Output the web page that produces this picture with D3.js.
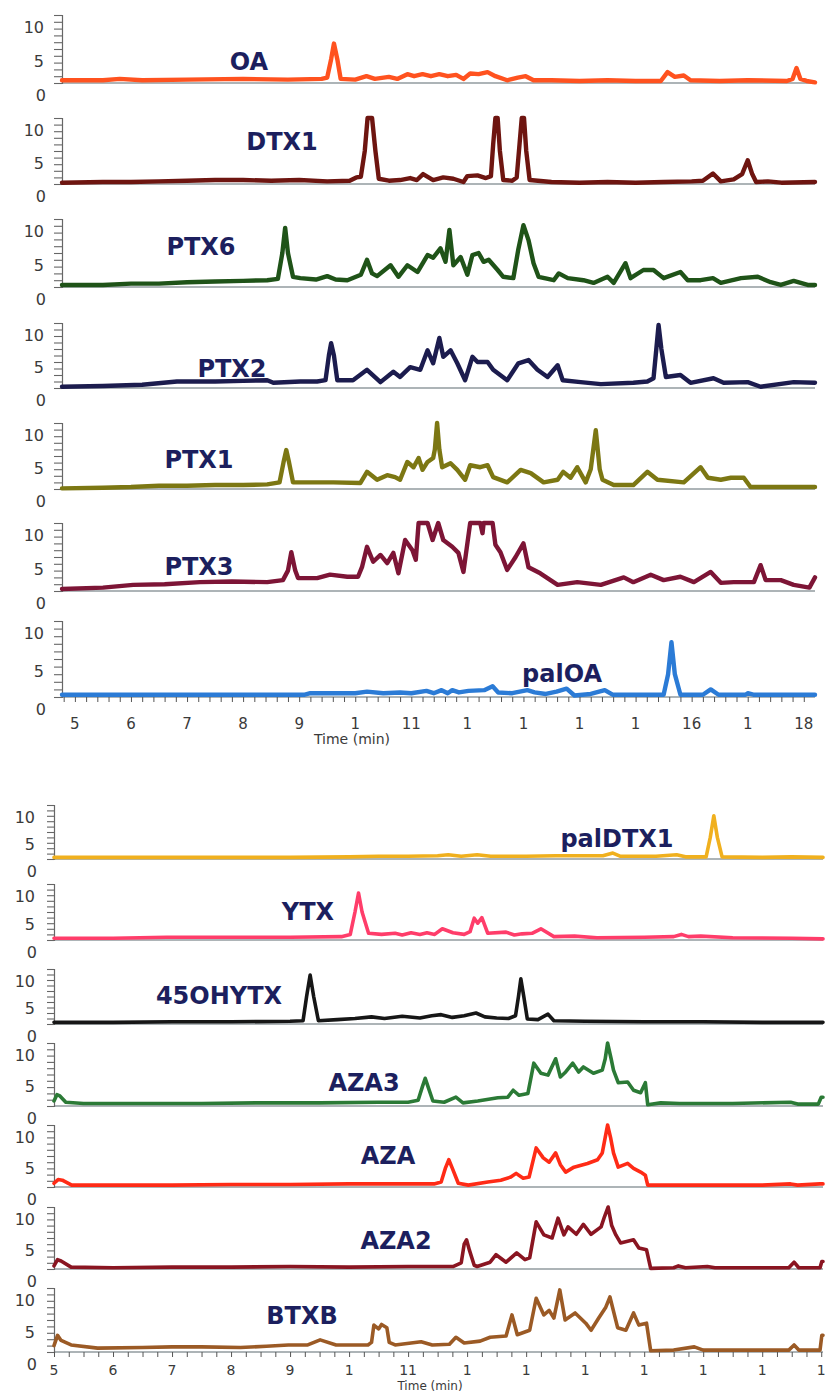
<!DOCTYPE html>
<html><head><meta charset="utf-8">
<script src="https://cdn.jsdelivr.net/npm/d3@7"></script>
<style>html,body{margin:0;padding:0;background:#fff}svg{display:block}</style>
</head><body><div id="chart"></div>
<script>
// ---------- DATA ----------
const tickTimes = [5,6,7,8,9,10,11,12,13,14,15,16,17,18];
const topTickLabels = ["5","6","7","8","9","1","11","1","1","1","1","16","1","18"];
const bottomTickLabels = ["5","6","7","8","9","1","11","1","1","1","1","1","1","1"];
const yTickLabels = ["10","5","0"];
const yTickValues = [10,5,0];
const xTitle = "Time (min)";

const topNames = ["OA","DTX1","PTX6","PTX2","PTX1","PTX3","palOA"];
const bottomNames = ["palDTX1","YTX","45OHYTX","AZA3","AZA","AZA2","BTXB"];

// each series: [time (min), intensity]
const OA = [[4.77,0.4],[5.5,0.4],[5.8,0.6],[6.2,0.4],[7.0,0.5],[8.0,0.6],[8.8,0.5],[9.4,0.6],[9.5,0.8],[9.57,3.5],[9.62,5.8],[9.68,3.5],[9.74,0.6],[10.0,0.5],[10.2,1.0],[10.35,0.6],[10.6,0.9],[10.75,0.6],[10.93,1.3],[11.05,1.0],[11.2,1.3],[11.35,1.0],[11.5,1.3],[11.65,1.0],[11.8,1.2],[11.93,0.6],[12.05,1.4],[12.2,1.3],[12.36,1.6],[12.5,1.0],[12.71,0.4],[12.9,0.8],[13.04,1.0],[13.18,0.4],[13.5,0.4],[14.0,0.3],[14.5,0.4],[15.0,0.3],[15.45,0.3],[15.57,1.6],[15.7,0.9],[15.86,1.1],[15.98,0.4],[16.5,0.3],[17.0,0.4],[17.7,0.3],[17.8,0.6],[17.87,2.2],[17.94,0.6],[18.05,0.3],[18.2,0.1]];
const DTX1 = [[4.77,0.2],[5.5,0.3],[6.0,0.3],[6.5,0.4],[7.0,0.5],[7.5,0.6],[8.0,0.6],[8.5,0.5],[9.0,0.6],[9.5,0.4],[9.9,0.5],[10.02,1.0],[10.1,1.1],[10.17,5],[10.22,10],[10.3,10],[10.36,5],[10.42,0.8],[10.6,0.5],[10.8,0.6],[10.98,0.9],[11.1,0.6],[11.21,1.5],[11.39,0.6],[11.57,1.0],[11.75,0.8],[11.93,0.3],[12.0,1.2],[12.18,1.3],[12.33,0.9],[12.42,1.2],[12.46,6],[12.5,10],[12.54,10],[12.58,5],[12.64,0.6],[12.8,0.5],[12.88,1.0],[12.93,6],[12.97,10],[13.01,10],[13.05,5],[13.11,0.6],[13.5,0.3],[14.0,0.2],[14.5,0.3],[15.0,0.2],[15.5,0.3],[16.0,0.4],[16.2,0.5],[16.38,1.6],[16.52,0.4],[16.75,0.7],[16.9,1.5],[17.0,3.6],[17.08,1.5],[17.15,0.3],[17.36,0.4],[17.6,0.2],[18.2,0.3]];
const PTX6 = [[4.77,0.3],[5.5,0.3],[6.0,0.5],[6.5,0.5],[7.0,0.7],[7.5,0.8],[8.0,0.9],[8.43,1.0],[8.62,1.2],[8.7,5],[8.75,8.7],[8.8,5],[8.89,1.5],[9.02,1.3],[9.3,1.1],[9.5,1.6],[9.65,1.1],[9.86,1.0],[10.1,1.8],[10.21,4.0],[10.3,2.0],[10.39,1.6],[10.63,3.2],[10.77,1.5],[10.93,3.2],[11.11,2.2],[11.29,4.7],[11.39,4.3],[11.52,5.7],[11.61,3.7],[11.68,8.4],[11.75,3.2],[11.88,4.4],[12.0,1.8],[12.09,4.7],[12.2,5.0],[12.29,3.7],[12.38,4.0],[12.54,2.5],[12.64,1.5],[12.82,1.3],[12.91,5.6],[13.0,9.1],[13.09,6.9],[13.18,3.5],[13.27,1.5],[13.54,1.0],[13.63,2.0],[13.79,1.3],[14.07,1.0],[14.25,0.6],[14.5,1.5],[14.61,0.6],[14.82,3.5],[14.91,1.3],[15.14,2.5],[15.32,2.5],[15.5,1.3],[15.8,2.2],[15.93,1.0],[16.16,1.0],[16.38,1.3],[16.52,0.6],[16.88,1.3],[17.18,1.5],[17.41,0.7],[17.59,0.3],[17.82,0.9],[18.07,0.3],[18.2,0.3]];
const PTX2 = [[4.77,0.2],[5.5,0.3],[6.2,0.5],[6.82,1.0],[7.5,1.0],[8.0,1.1],[8.43,1.2],[8.54,0.8],[9.02,1.0],[9.32,1.0],[9.47,1.2],[9.53,5],[9.57,6.9],[9.62,5],[9.68,1.2],[9.96,1.2],[10.21,2.8],[10.45,0.9],[10.68,2.5],[10.8,1.7],[10.98,3.2],[11.16,2.8],[11.29,5.8],[11.39,3.8],[11.5,7.7],[11.57,4.8],[11.7,5.8],[11.82,3.8],[11.96,1.2],[12.09,4.8],[12.18,4.0],[12.36,4.0],[12.46,2.8],[12.71,1.2],[12.91,3.8],[13.09,4.3],[13.25,2.8],[13.43,1.7],[13.61,3.5],[13.7,1.2],[14.02,0.9],[14.38,0.6],[14.96,0.8],[15.21,1.0],[15.32,1.5],[15.37,6],[15.41,9.7],[15.46,6],[15.54,1.7],[15.8,2.0],[15.98,0.8],[16.39,1.5],[16.57,0.8],[17.0,0.9],[17.23,0.2],[17.82,0.9],[18.2,0.8]];
const PTX1 = [[4.77,0.1],[5.5,0.2],[6.0,0.3],[6.5,0.5],[7.0,0.5],[7.5,0.6],[8.0,0.6],[8.43,0.7],[8.65,1.0],[8.72,4],[8.77,5.9],[8.82,4],[8.89,1.0],[9.2,1.0],[9.61,1.0],[10.09,0.9],[10.21,2.6],[10.39,1.4],[10.57,2.1],[10.71,1.8],[10.8,1.4],[10.93,4.1],[11.04,3.3],[11.13,4.7],[11.2,2.9],[11.29,4.1],[11.39,4.7],[11.42,6],[11.46,10],[11.5,6],[11.55,3.3],[11.7,3.9],[11.82,2.9],[11.96,1.4],[12.05,3.6],[12.23,3.3],[12.36,3.6],[12.46,1.8],[12.71,1.0],[12.95,2.9],[13.13,2.4],[13.36,1.0],[13.61,1.4],[13.71,2.6],[13.84,1.7],[13.96,3.3],[14.11,1.0],[14.2,3],[14.29,8.9],[14.36,3],[14.41,1.4],[14.61,0.6],[14.96,0.6],[15.21,2.6],[15.39,1.4],[15.86,1.0],[16.16,3.3],[16.29,1.7],[16.52,1.4],[16.7,1.7],[16.93,1.7],[17.05,0.3],[17.5,0.3],[18.2,0.3]];
const PTX3 = [[4.77,0.3],[5.5,0.5],[6.04,0.9],[6.6,1.0],[7.23,1.3],[7.8,1.4],[8.43,1.3],[8.71,1.6],[8.8,3],[8.86,5.7],[8.93,3],[8.98,1.9],[9.32,1.9],[9.55,2.4],[9.86,2.1],[10.05,2.1],[10.12,3.5],[10.21,6.5],[10.32,4.3],[10.45,5.3],[10.57,4.1],[10.68,5.6],[10.77,2.6],[10.89,7.5],[11.02,6.0],[11.08,4.6],[11.13,10],[11.29,10],[11.38,7.5],[11.48,10],[11.57,7.5],[11.73,6.5],[11.84,5.6],[11.93,2.8],[12.05,10],[12.23,10],[12.27,8.5],[12.29,10],[12.45,10],[12.5,6.8],[12.59,5.7],[12.71,3.1],[12.86,5.0],[13.0,7.0],[13.09,3.5],[13.3,2.6],[13.61,0.9],[13.96,1.3],[14.38,0.9],[14.79,2.0],[14.96,1.3],[15.27,2.4],[15.5,1.6],[15.8,2.1],[16.04,1.3],[16.34,2.8],[16.52,1.2],[16.75,1.3],[17.11,1.3],[17.23,3.8],[17.32,1.6],[17.59,1.6],[17.82,0.9],[18.1,0.5],[18.2,2.0]];
const palOA = [[4.77,0.3],[6,0.3],[7,0.3],[8,0.3],[9.1,0.3],[9.2,0.5],[10.0,0.5],[10.21,0.7],[10.5,0.5],[10.8,0.6],[11.0,0.5],[11.27,0.8],[11.4,0.5],[11.54,0.9],[11.65,0.5],[11.73,0.9],[11.85,0.6],[12.02,0.8],[12.3,0.9],[12.45,1.4],[12.55,0.6],[12.8,0.5],[13.07,0.9],[13.2,0.6],[13.4,0.4],[13.59,0.7],[13.77,1.1],[13.91,0.2],[14.2,0.4],[14.45,0.9],[14.59,0.3],[15.0,0.3],[15.5,0.3],[15.58,3],[15.64,7.2],[15.7,3],[15.8,0.3],[16.2,0.3],[16.34,1.0],[16.48,0.3],[16.96,0.3],[17.0,0.5],[17.1,0.3],[18.2,0.3]];

const palDTX1 = [[5.0,0.3],[6,0.3],[7,0.3],[8,0.3],[9,0.3],[10,0.4],[10.5,0.5],[11,0.5],[11.5,0.6],[11.68,0.8],[11.9,0.5],[12.17,0.8],[12.4,0.5],[13,0.5],[13.5,0.6],[14.0,0.6],[14.3,0.6],[14.47,1.1],[14.6,0.5],[15.2,0.5],[15.55,0.8],[15.7,0.4],[16.05,0.4],[16.12,4],[16.18,8],[16.24,4],[16.32,0.4],[17,0.3],[17.5,0.4],[18.03,0.3]];
const YTX = [[5.0,0.3],[6.0,0.3],[6.91,0.5],[8.0,0.5],[9.0,0.5],[9.87,0.6],[10.02,1.0],[10.1,5],[10.16,8.4],[10.22,5],[10.33,1.2],[10.55,1.0],[10.78,1.2],[10.9,0.9],[11.05,1.3],[11.2,1.0],[11.32,1.3],[11.45,1.0],[11.58,2.0],[11.76,1.3],[11.95,1.0],[12.05,1.5],[12.12,3.9],[12.18,3.0],[12.25,4.0],[12.35,1.2],[12.66,1.4],[12.8,0.9],[12.93,1.1],[13.1,1.2],[13.25,2.0],[13.47,0.6],[13.82,0.7],[14.2,0.4],[15.0,0.5],[15.5,0.6],[15.63,1.0],[15.75,0.6],[15.96,0.7],[16.5,0.4],[17.5,0.3],[18.03,0.2]];
const OHYTX45 = [[5,0.3],[6,0.3],[7,0.4],[8,0.4],[9,0.5],[9.22,0.6],[9.28,5],[9.34,8.9],[9.4,5],[9.48,0.6],[9.8,0.8],[10.1,1.0],[10.38,1.3],[10.6,1.0],[10.9,1.4],[11.2,1.1],[11.4,1.5],[11.56,1.7],[11.75,1.2],[11.95,1.5],[12.15,2.0],[12.3,1.3],[12.5,1.1],[12.7,1.0],[12.82,1.5],[12.87,5],[12.91,8.2],[12.96,5],[13.02,0.9],[13.2,0.8],[13.37,1.8],[13.47,0.6],[14,0.5],[15,0.4],[16,0.4],[17,0.3],[18.03,0.3]];
const AZA3 = [[5.0,0.8],[5.05,1.8],[5.1,1.6],[5.2,0.6],[5.5,0.4],[6.5,0.4],[7.5,0.4],[8.5,0.5],[9.5,0.5],[10.5,0.6],[11.0,0.6],[11.17,0.9],[11.24,3],[11.29,4.4],[11.34,3],[11.42,0.8],[11.61,0.6],[11.81,1.4],[11.93,0.5],[12.18,0.8],[12.52,1.3],[12.69,1.4],[12.78,2.5],[12.88,1.7],[13.03,2.0],[13.13,6.8],[13.25,5.2],[13.37,4.9],[13.5,7.5],[13.58,4.6],[13.67,5.4],[13.79,6.8],[13.89,5.4],[13.97,6.2],[14.14,5.2],[14.29,5.7],[14.34,7.5],[14.38,10],[14.44,7.5],[14.48,5.7],[14.56,3.7],[14.72,3.8],[14.82,2.5],[14.94,2.1],[15.02,3.7],[15.06,0.2],[15.28,0.5],[15.6,0.4],[16.5,0.4],[17.48,0.6],[17.6,0.3],[17.95,0.3],[18.0,1.4],[18.03,1.4]];
const AZA = [[5.0,0.6],[5.07,1.2],[5.14,1.1],[5.3,0.3],[6.0,0.3],[7.0,0.3],[8.0,0.4],[9.0,0.4],[10.0,0.5],[11.0,0.5],[11.44,0.5],[11.56,0.8],[11.63,3],[11.69,4.4],[11.75,3],[11.85,0.6],[12.02,0.3],[12.35,0.8],[12.57,1.1],[12.74,1.6],[12.83,2.2],[12.95,1.4],[13.05,1.6],[13.17,6.3],[13.29,4.7],[13.39,4.0],[13.5,5.5],[13.58,3.6],[13.67,2.4],[13.81,3.2],[14.04,3.8],[14.21,4.4],[14.29,5.5],[14.34,8],[14.38,10],[14.43,8],[14.48,5.5],[14.56,3.2],[14.72,3.8],[14.82,3.0],[14.94,2.4],[15.02,1.9],[15.06,0.3],[16.0,0.3],[17.0,0.3],[17.48,0.5],[17.6,0.3],[17.98,0.5],[18.03,0.5]];
const AZA2 = [[5.0,0.5],[5.06,1.5],[5.12,1.3],[5.29,0.3],[6,0.2],[7,0.3],[8,0.3],[9,0.4],[10,0.3],[11,0.4],[11.76,0.4],[11.9,1.0],[11.95,4],[11.99,4.7],[12.04,3],[12.12,0.6],[12.17,0.4],[12.39,1.1],[12.49,2.3],[12.66,1.1],[12.84,2.6],[12.98,1.5],[13.06,1.8],[13.17,7.6],[13.3,5.5],[13.44,5.0],[13.54,8.2],[13.64,5.5],[13.71,6.8],[13.85,5.6],[13.97,7.2],[14.1,5.6],[14.27,6.8],[14.33,8.5],[14.39,10],[14.45,7],[14.52,5.5],[14.6,4.2],[14.82,4.7],[14.91,3.4],[15.04,3.1],[15.11,0.1],[15.5,0.2],[15.58,0.5],[15.7,0.2],[16.07,0.4],[16.2,0.2],[17.45,0.2],[17.54,1.1],[17.62,0.2],[17.98,0.2],[18.01,1.2],[18.03,1.2]];
const BTXB = [[5.0,1.0],[5.06,2.6],[5.12,1.8],[5.29,1.1],[5.74,0.6],[6.5,0.7],[7.0,0.8],[7.5,0.8],[8.16,0.7],[8.6,0.9],[8.97,1.1],[9.3,1.1],[9.51,1.9],[9.78,1.1],[10.32,1.1],[10.38,1.5],[10.42,4.2],[10.5,3.6],[10.55,4.3],[10.64,3.8],[10.68,1.5],[10.78,1.1],[11.22,1.6],[11.41,1.1],[11.7,1.2],[11.81,2.3],[11.95,1.4],[12.22,1.7],[12.39,2.3],[12.66,2.5],[12.76,5.8],[12.85,2.7],[13.06,3.4],[13.17,8.4],[13.3,5.8],[13.39,6.5],[13.47,5.3],[13.57,9.7],[13.66,5.0],[13.83,6.1],[14.01,4.5],[14.1,3.4],[14.23,5.3],[14.35,7],[14.42,8.6],[14.55,3.8],[14.69,3.4],[14.82,6.1],[14.91,4.2],[15.04,4.5],[15.11,0.2],[15.5,0.3],[15.85,0.8],[16.0,0.3],[17.45,0.3],[17.54,1.1],[17.62,0.3],[17.98,0.3],[18.01,2.6],[18.03,2.6]];

const topSeries = [OA, DTX1, PTX6, PTX2, PTX1, PTX3, palOA];
const bottomSeries = [palDTX1, YTX, OHYTX45, AZA3, AZA, AZA2, BTXB];

// ---------- LAYOUT / STYLE ----------
const topColors = ["#ff521f","#6e1510","#1f5318","#1c1c4e","#7c7713","#7d1536","#2b7bd6"];
const bottomColors = ["#f0b01e","#ff3d6a","#161616","#2b7a36","#ff2b16","#8a1521","#9b5a25"];
const topLayout = {
  x0: 62, x1: 815, domain: [4.77, 18.2],
  tops: [15,118,219,323,423,523,621], bases: [83,184,287,388,489,591,697],
  labelPos: [[249,62],[282,142],[201,247],[232,369],[199,460],[199,567],[562,674]],
  tickLabelY: 724, titleX: 352, titleY: 740, titleSize: 14, tickSize: 15, minorStep: 0.2, stroke: 4.4,
  yLabelX: 44, tickLen: 8
};
const bottomLayout = {
  x0: 54, x1: 823, domain: [5, 18.03],
  tops: [805,884,969,1043,1125,1207,1288], bases: [859,940,1024,1106,1187,1269,1352],
  labelPos: [[617,839],[308,912],[219,996],[364,1083],[388,1156],[396,1241],[302,1316]],
  tickLabelY: 1371, titleX: 430, titleY: 1386, titleSize: 12, tickSize: 14, minorStep: 0.25, stroke: 3.6,
  yLabelX: 35, tickLen: 7
};

const svg = d3.select("#chart").append("svg").attr("width",829).attr("height",1393)
  .style("font-family","'DejaVu Sans', Verdana, sans-serif");

function drawGroup(L, names, series, colors, tickLabels) {
  const x = d3.scaleLinear().domain(L.domain).range([L.x0, L.x1]);
  const g = svg.append("g");
  names.forEach((name, i) => {
    const y = d3.scaleLinear().domain([0,10]).range([L.bases[i], L.tops[i]]);
    const p = g.append("g");
    // baseline
    p.append("line").attr("x1", L.x0).attr("x2", L.x1).attr("y1", y(0)).attr("y2", y(0))
      .attr("stroke", "#5d6a70").attr("stroke-width", 1.2);
    // y axis
    const ax = p.append("g").attr("transform", `translate(${L.x0},0)`)
      .call(d3.axisLeft(y).tickValues(d3.range(0, 11, 1)).tickSize(L.tickLen).tickFormat(""));
    ax.select(".domain").attr("stroke", "#666").attr("stroke-width", 1.2);
    ax.selectAll(".tick line").attr("stroke", "#666").attr("stroke-width", 1.1);
    // y tick labels (offset below tick as in original)
    p.selectAll("text.yl").data(yTickValues).join("text").attr("class","yl")
      .attr("x", (d) => d === 0 ? L.yLabelX + 2 : L.yLabelX)
      .attr("y", (d) => y(d) + 13)
      .attr("text-anchor","end").attr("dominant-baseline","middle")
      .attr("font-size", 16).attr("fill", "#3a3a3a")
      .text((d, k) => yTickLabels[k]);
    // compound name
    p.append("text").attr("x", L.labelPos[i][0]).attr("y", L.labelPos[i][1])
      .attr("text-anchor","middle").attr("dominant-baseline","central")
      .attr("font-size", 24).attr("font-weight","bold").attr("fill","#1c1f5e")
      .text(name);
    // trace
    const line = d3.line().x(d => x(d[0])).y(d => y(d[1]));
    p.append("path").datum(series[i]).attr("d", line)
      .attr("fill","none").attr("stroke", colors[i]).attr("stroke-width", L.stroke)
      .attr("stroke-linejoin","round").attr("stroke-linecap","round");
    // x axis on last panel
    if (i === names.length - 1) {
      const xa = p.append("g").attr("transform", `translate(0,${y(0)})`)
        .call(d3.axisBottom(x).tickValues(d3.range(Math.ceil(L.domain[0]/L.minorStep)*L.minorStep, L.domain[1], L.minorStep)).tickSize(5).tickFormat(""));
      xa.select(".domain").remove();
      xa.selectAll(".tick line").attr("stroke","#555");
      p.selectAll("text.xl").data(tickTimes).join("text").attr("class","xl")
        .attr("x", d => x(d)).attr("y", L.tickLabelY)
        .attr("text-anchor","middle").attr("dominant-baseline","middle")
        .attr("font-size", L.tickSize).attr("fill","#3a3a3a")
        .text((d,k) => tickLabels[k]);
      p.append("text").attr("x", L.titleX).attr("y", L.titleY)
        .attr("text-anchor","middle").attr("dominant-baseline","middle")
        .attr("font-size", L.titleSize).attr("fill","#3a3a3a").text(xTitle);
    }
  });
}

drawGroup(topLayout, topNames, topSeries, topColors, topTickLabels);
drawGroup(bottomLayout, bottomNames, bottomSeries, bottomColors, bottomTickLabels);
</script>
</body></html>
